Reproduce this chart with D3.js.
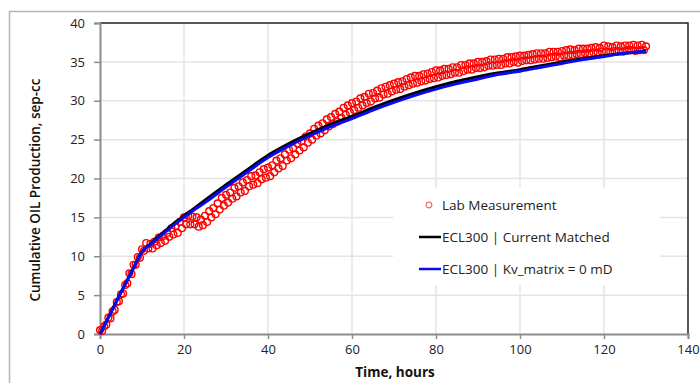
<!DOCTYPE html>
<html>
<head>
<meta charset="utf-8">
<script src="https://cdn.jsdelivr.net/npm/d3@7"></script>
<style>
  body { margin: 0; background: #fff; }
  svg { display: block; font-family: "Open Sans", sans-serif; }
</style>
</head>
<body>
<svg class="rootSvg" width="700" height="383"></svg>
<script>
// Lab measurement (hours, sep-cc)
var labTime = [
  0, 0.5, 1, 1.5, 2, 2.5, 3, 3.5, 4, 4.5, 5, 5.5, 6, 6.5, 7, 7.5, 8, 8.5, 9, 9.5,
  10, 10.5, 11, 11.5, 12, 12.5, 13, 13.5, 14, 14.5, 15, 15.5, 16, 16.5, 17, 17.5, 18, 18.5, 19, 19.5,
  20, 20.5, 21, 21.5, 22, 22.5, 23, 23.5, 24, 24.5, 25, 25.5, 26, 26.5, 27, 27.5, 28, 28.5, 29, 29.5,
  30, 30.5, 31, 31.5, 32, 32.5, 33, 33.5, 34, 34.5, 35, 35.5, 36, 36.5, 37, 37.5, 38, 38.5, 39, 39.5,
  40, 40.5, 41, 41.5, 42, 42.5, 43, 43.5, 44, 44.5, 45, 45.5, 46, 46.5, 47, 47.5, 48, 48.5, 49, 49.5,
  50, 50.5, 51, 51.5, 52, 52.5, 53, 53.5, 54, 54.5, 55, 55.5, 56, 56.5, 57, 57.5, 58, 58.5, 59, 59.5,
  60, 60.5, 61, 61.5, 62, 62.5, 63, 63.5, 64, 64.5, 65, 65.5, 66, 66.5, 67, 67.5, 68, 68.5, 69, 69.5,
  70, 70.5, 71, 71.5, 72, 72.5, 73, 73.5, 74, 74.5, 75, 75.5, 76, 76.5, 77, 77.5, 78, 78.5, 79, 79.5,
  80, 80.5, 81, 81.5, 82, 82.5, 83, 83.5, 84, 84.5, 85, 85.5, 86, 86.5, 87, 87.5, 88, 88.5, 89, 89.5,
  90, 90.5, 91, 91.5, 92, 92.5, 93, 93.5, 94, 94.5, 95, 95.5, 96, 96.5, 97, 97.5, 98, 98.5, 99, 99.5,
  100, 100.5, 101, 101.5, 102, 102.5, 103, 103.5, 104, 104.5, 105, 105.5, 106, 106.5, 107, 107.5, 108, 108.5, 109, 109.5,
  110, 110.5, 111, 111.5, 112, 112.5, 113, 113.5, 114, 114.5, 115, 115.5, 116, 116.5, 117, 117.5, 118, 118.5, 119, 119.5,
  120, 120.5, 121, 121.5, 122, 122.5, 123, 123.5, 124, 124.5, 125, 125.5, 126, 126.5, 127, 127.5, 128, 128.5, 129, 129.5,
  130
];
var labOil = [
  0.5, 0.4, 1.0, 1.2, 2.1, 2.0, 2.9, 3.1, 4.1, 4.2, 5.1, 5.2, 6.3, 6.5, 7.8, 7.7, 8.9, 8.9, 9.9, 9.8,
  10.9, 10.7, 11.7, 11.0, 11.6, 11.0, 11.9, 11.4, 12.4, 11.7, 12.6, 12.0, 13.0, 12.5, 13.6, 12.8, 13.9, 13.0, 14.4, 13.6,
  15.0, 14.1, 15.2, 14.1, 15.1, 14.1, 15.0, 13.8, 14.7, 14.0, 15.2, 14.4, 15.8, 15.0, 16.2, 15.4, 16.8, 16.0, 17.5, 16.5,
  17.9, 16.9, 18.2, 17.4, 18.8, 17.7, 19.0, 18.2, 19.5, 18.4, 19.8, 19.0, 20.3, 19.2, 20.4, 19.4, 20.8, 19.9, 21.2, 20.1,
  21.4, 20.3, 21.7, 20.8, 22.3, 21.3, 22.6, 21.6, 23.1, 22.3, 23.7, 22.6, 23.9, 23.1, 24.5, 23.6, 24.8, 24.0, 25.4, 24.6,
  25.8, 25.0, 26.4, 25.5, 26.8, 25.8, 27.1, 26.2, 27.6, 26.7, 27.9, 27.0, 28.3, 27.3, 28.6, 27.8, 29.1, 28.2, 29.4, 28.5,
  29.7, 28.8, 29.9, 29.1, 30.3, 29.4, 30.5, 29.7, 30.9, 29.9, 31.0, 30.3, 31.3, 30.4, 31.6, 30.8, 31.8, 30.9, 32.0, 31.2,
  32.2, 31.4, 32.4, 31.5, 32.5, 31.8, 32.8, 32.0, 33.0, 32.2, 33.2, 32.3, 33.2, 32.5, 33.4, 32.6, 33.5, 32.8, 33.7, 32.9,
  33.9, 33.0, 33.9, 33.2, 34.1, 33.3, 34.1, 33.4, 34.3, 33.6, 34.3, 33.6, 34.6, 33.8, 34.6, 34.0, 34.8, 34.0, 34.8, 34.2,
  35.0, 34.2, 35.0, 34.3, 35.1, 34.5, 35.3, 34.5, 35.3, 34.6, 35.4, 34.6, 35.4, 34.8, 35.6, 34.8, 35.6, 35.0, 35.7, 34.9,
  35.8, 35.1, 35.8, 35.2, 35.9, 35.2, 36.0, 35.3, 36.1, 35.4, 36.1, 35.4, 36.1, 35.5, 36.3, 35.6, 36.3, 35.7, 36.3, 35.6,
  36.4, 35.8, 36.5, 35.8, 36.6, 35.9, 36.5, 36.0, 36.7, 36.0, 36.7, 36.1, 36.7, 36.1, 36.8, 36.2, 36.9, 36.2, 36.8, 36.3,
  37.1, 36.3, 37.0, 36.3, 36.9, 36.4, 37.1, 36.4, 37.0, 36.3, 37.1, 36.5, 37.1, 36.5, 37.2, 36.4, 37.1, 36.5, 37.2, 36.5,
  37.0
];

// Simulation results
var simTime = [0, 2, 4, 6, 8, 10, 12, 14, 16, 18, 20, 22, 25, 30, 35, 40, 45, 50, 55, 60,
               65, 70, 75, 80, 85, 90, 95, 100, 105, 110, 115, 120, 125, 130];
var eclMatched = [0, 2.1, 4.3, 6.4, 8.5, 10.6, 11.6, 12.6, 13.5, 14.4, 15.2, 16.0, 17.2, 19.2, 21.1, 23.0, 24.5, 25.8, 27.0, 28.0,
                  29.1, 30.1, 31.0, 31.8, 32.5, 33.1, 33.6, 34.0, 34.5, 35.0, 35.4, 35.8, 36.1, 36.4];
var eclKv0 = [0, 2.1, 4.3, 6.4, 8.5, 10.6, 11.5, 12.4, 13.3, 14.2, 15.0, 15.8, 16.9, 18.9, 20.8, 22.7, 24.2, 25.5, 26.7, 27.7,
              28.8, 29.8, 30.7, 31.5, 32.2, 32.8, 33.4, 33.8, 34.3, 34.8, 35.3, 35.7, 36.1, 36.4];

var xTicks = [0, 20, 40, 60, 80, 100, 120, 140];
var yTicks = [0, 5, 10, 15, 20, 25, 30, 35, 40];
var legendLabels = ['Lab Measurement', 'ECL300 | Current Matched', 'ECL300 | Kv_matrix = 0 mD'];

var margin = { left: 100, top: 23, right: 12, bottom: 49 };
var svg = d3.select('.rootSvg');
var width = +svg.attr('width');
var height = +svg.attr('height');

var x = d3.scaleLinear().domain([0, 140]).range([margin.left, width - margin.right]);
var y = d3.scaleLinear().domain([0, 40]).range([height - margin.bottom, margin.top]);

// soft edge, the original is a blurry screenshot
var defs = svg.append('defs');
defs.append('filter')
    .attr('id', 'soft')
    .append('feGaussianBlur')
    .attr('stdDeviation', 0.45);

// outer chart frame
svg.append('rect')
    .attr('x', 9.5).attr('y', 11.5)
    .attr('width', 720).attr('height', 400)
    .attr('fill', 'none')
    .attr('stroke', '#b4b4b4')
    .attr('stroke-width', 1.5);

// gridlines
var grid = svg.append('g').attr('class', 'grid');
grid.selectAll('.gx')
    .data(xTicks.slice(1, -1))
    .enter().append('line')
        .attr('x1', x).attr('x2', x)
        .attr('y1', y(0)).attr('y2', y(40))
        .attr('stroke', '#e4e4e4').attr('stroke-width', 1.5);
grid.selectAll('.gy')
    .data(yTicks.slice(1, -1))
    .enter().append('line')
        .attr('y1', y).attr('y2', y)
        .attr('x1', x(0)).attr('x2', x(140))
        .attr('stroke', '#e4e4e4').attr('stroke-width', 1.5);

// legend background hides the grid
svg.append('rect')
    .attr('x', 393).attr('y', 188)
    .attr('width', 267).attr('height', 97)
    .attr('fill', '#fff');

// plot border (top / right)
svg.append('path')
    .attr('d', 'M' + x(0) + ',' + y(40) + 'H' + x(140) + 'V' + y(0))
    .attr('fill', 'none')
    .attr('stroke', '#222')
    .attr('stroke-width', 1.5);

// axes
var xAxis = d3.axisBottom(x).tickValues(xTicks).tickSize(5).tickPadding(6);
var yAxis = d3.axisLeft(y).tickValues(yTicks).tickSize(6).tickPadding(9);

var gx = svg.append('g')
    .attr('transform', `translate(0, ${y(0)})`)
    .call(xAxis);
var gy = svg.append('g')
    .attr('transform', `translate(${x(0)}, 0)`)
    .call(yAxis);

[gx, gy].forEach(function (g) {
    g.select('.domain').attr('stroke', '#8c8c8c').attr('stroke-width', 2);
    g.selectAll('.tick line').attr('stroke', '#8c8c8c').attr('stroke-width', 1.5);
    g.selectAll('.tick text')
        .attr('fill', '#222')
        .style('font-size', '13px')
        .style('font-family', '"Open Sans", sans-serif');
});

// lab data
svg.append('g')
    .attr('filter', 'url(#soft)')
    .selectAll('circle')
    .data(labTime)
    .enter().append('circle')
        .attr('cx', function (d) { return x(d); })
        .attr('cy', function (d, i) { return y(labOil[i]); })
        .attr('r', 3.4)
        .attr('fill', 'none')
        .attr('stroke', '#ff0000')
        .attr('stroke-width', 1.4);

// simulation curves
function simLine(values) {
    return d3.line()
        .x(function (d) { return x(d); })
        .y(function (d, i) { return y(values[i]); })
        .curve(d3.curveMonotoneX)(simTime);
}

svg.append('path')
    .attr('d', simLine(eclMatched))
    .attr('fill', 'none')
    .attr('stroke', '#000')
    .attr('stroke-width', 3);

svg.append('path')
    .attr('d', simLine(eclKv0))
    .attr('fill', 'none')
    .attr('stroke', '#0a0af0')
    .attr('stroke-width', 3);

// legend
var legend = svg.append('g').attr('class', 'legend');
var legendY = [205, 237, 269];

legend.append('circle')
    .attr('cx', 429).attr('cy', legendY[0])
    .attr('r', 2.8)
    .attr('fill', 'none')
    .attr('stroke', '#f07070')
    .attr('stroke-width', 1.2);

legend.append('line')
    .attr('x1', 419).attr('x2', 441)
    .attr('y1', legendY[1]).attr('y2', legendY[1])
    .attr('stroke', '#000').attr('stroke-width', 2.5);

legend.append('line')
    .attr('x1', 419).attr('x2', 441)
    .attr('y1', legendY[2]).attr('y2', legendY[2])
    .attr('stroke', '#0a0af0').attr('stroke-width', 2.5);

legend.selectAll('text')
    .data(legendLabels)
    .enter().append('text')
        .attr('x', 442)
        .attr('y', function (d, i) { return legendY[i]; })
        .attr('dy', '0.35em')
        .attr('fill', '#222')
        .style('font-size', '13.5px')
        .text(function (d) { return d; });

// axis titles
svg.append('text')
    .attr('transform', `translate(40, 190) rotate(-90)`)
    .attr('text-anchor', 'middle')
    .attr('fill', '#111')
    .style('font-size', '13.5px')
    .style('font-weight', 600)
    .text('Cumulative OIL Production, sep-cc');

svg.append('text')
    .attr('x', 395).attr('y', 377)
    .attr('text-anchor', 'middle')
    .attr('fill', '#111')
    .style('font-size', '13.5px')
    .style('font-weight', 700)
    .text('Time, hours');
</script>
</body>
</html>
